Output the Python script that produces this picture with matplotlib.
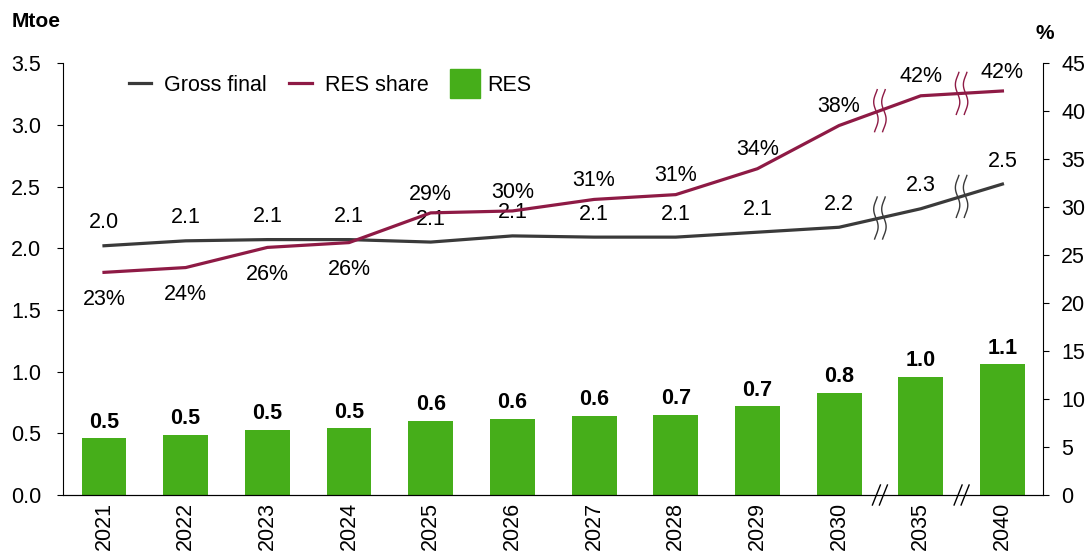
import numpy as np
import matplotlib.pyplot as plt
from matplotlib.lines import Line2D
from matplotlib.patches import Patch, Rectangle
from matplotlib.legend_handler import HandlerPatch

plt.rcParams['font.family'] = ['Liberation Sans', 'DejaVu Sans']

# Data
years = ['2021', '2022', '2023', '2024', '2025', '2026', '2027', '2028', '2029', '2030', '2035', '2040']
res = [0.46, 0.49, 0.53, 0.54, 0.60, 0.62, 0.64, 0.65, 0.72, 0.83, 0.96, 1.06]
gross_final = [2.02, 2.06, 2.07, 2.07, 2.05, 2.10, 2.09, 2.09, 2.13, 2.17, 2.32, 2.52]
res_share = [23.2, 23.7, 25.8, 26.3, 29.4, 29.6, 30.8, 31.3, 34.0, 38.5, 41.6, 42.1]
gross_labels = ['2.0', '2.1', '2.1', '2.1', '2.1', '2.1', '2.1', '2.1', '2.1', '2.2', '2.3', '2.5']
share_labels = ['23%', '24%', '26%', '26%', '29%', '30%', '31%', '31%', '34%', '38%', '42%', '42%']
res_labels = ['0.5', '0.5', '0.5', '0.5', '0.6', '0.6', '0.6', '0.7', '0.7', '0.8', '1.0', '1.1']

green = '#46ae1a'
grey = '#3a3a3a'
maroon = '#8e1a45'
fs = 15.5

fig = plt.figure(figsize=(10.89, 5.54), dpi=100)
ax = fig.add_axes([0.058, 0.1065, 0.9, 0.7795])
ax2 = ax.twinx()

x = np.arange(len(years))
ax.bar(x, res, width=0.55, color=green, zorder=2)
for xi, v, lab in zip(x, res, res_labels):
    ax.annotate(lab, (xi, v), xytext=(0, 4), textcoords='offset points',
                ha='center', va='bottom', fontsize=fs, fontweight='bold')

ax.plot(x, gross_final, color=grey, lw=2.3, zorder=3)
for xi, v, lab in zip(x, gross_final, gross_labels):
    ax.annotate(lab, (xi, v), xytext=(0, 9), textcoords='offset points',
                ha='center', va='bottom', fontsize=fs)

ax2.plot(x, res_share, color=maroon, lw=2.3, zorder=3)
for i, (xi, v, lab) in enumerate(zip(x, res_share, share_labels)):
    if i < 4:
        ax2.annotate(lab, (xi, v), xytext=(0, -12), textcoords='offset points',
                     ha='center', va='top', fontsize=fs)
    else:
        ax2.annotate(lab, (xi, v), xytext=(0, 6), textcoords='offset points',
                     ha='center', va='bottom', fontsize=fs)

ax.set_xlim(-0.5, 11.5)
ax.set_ylim(0, 3.5)
ax2.set_ylim(0, 45)
ax.set_yticks(np.arange(0, 3.51, 0.5))
ax.set_yticklabels([f'{v:.1f}' for v in np.arange(0, 3.51, 0.5)])
ax2.set_yticks(np.arange(0, 46, 5))
ax.set_xticks(x)
ax.set_xticklabels(years, rotation=90)
ax.tick_params(axis='x', length=0, labelsize=fs, pad=5)
ax.tick_params(axis='y', labelsize=fs, length=4, color='black', pad=12)
ax2.tick_params(axis='y', labelsize=fs, length=4, pad=9)
for a in (ax, ax2):
    a.spines['top'].set_visible(False)
ax2.spines['left'].set_visible(False)
ax.spines['right'].set_visible(False)

# axis break marks
px_x = 12 / 980.0
px_y1 = 3.5 / 432.0
px_y2 = 45 / 432.0
t = np.linspace(-1, 1, 50)
for xb in (9.5, 10.5):
    # on the x axis
    for dx in (-3.5, 3.5):
        ax.plot([xb + (dx - 4) * px_x, xb + (dx + 4) * px_x], [-10 * px_y1, 10 * px_y1],
                color='black', lw=1, clip_on=False, zorder=5)
    # on the lines
    for vals, a, py, col in ((gross_final, ax, px_y1, grey), (res_share, ax2, px_y2, maroon)):
        yb = np.interp(xb, x, vals)
        for dx in (-4, 4):
            xs = xb + (dx - 2.2 * np.sin(t * np.pi * 1.2)) * px_x
            ys = yb + t * 21 * py
            a.plot(xs, ys, color=col, lw=1, zorder=5)


# legend: bigger square for the bars than the line handles
def big_patch(legend, orig_handle, xdescent, ydescent, width, height, fontsize):
    return Rectangle((-xdescent - 1, -ydescent - 5), width + 5, height + 10)


handles = [Line2D([], [], color=grey, lw=2.3), Line2D([], [], color=maroon, lw=2.3),
           Patch(color=green)]
ax2.legend(handles, ['Gross final', 'RES share', 'RES'], ncol=3, frameon=False,
           fontsize=fs, loc='upper left', bbox_to_anchor=(0.047, 1.018),
           handlelength=1.05, handletextpad=0.6, columnspacing=1.05,
           handler_map={Patch: HandlerPatch(patch_func=big_patch)})

fig.text(0.011, 0.962, 'Mtoe', fontsize=15, fontweight='bold', va='center')
fig.text(0.951, 0.94, '%', fontsize=15, fontweight='bold', va='center')

fig.savefig('out.png', dpi=100)
